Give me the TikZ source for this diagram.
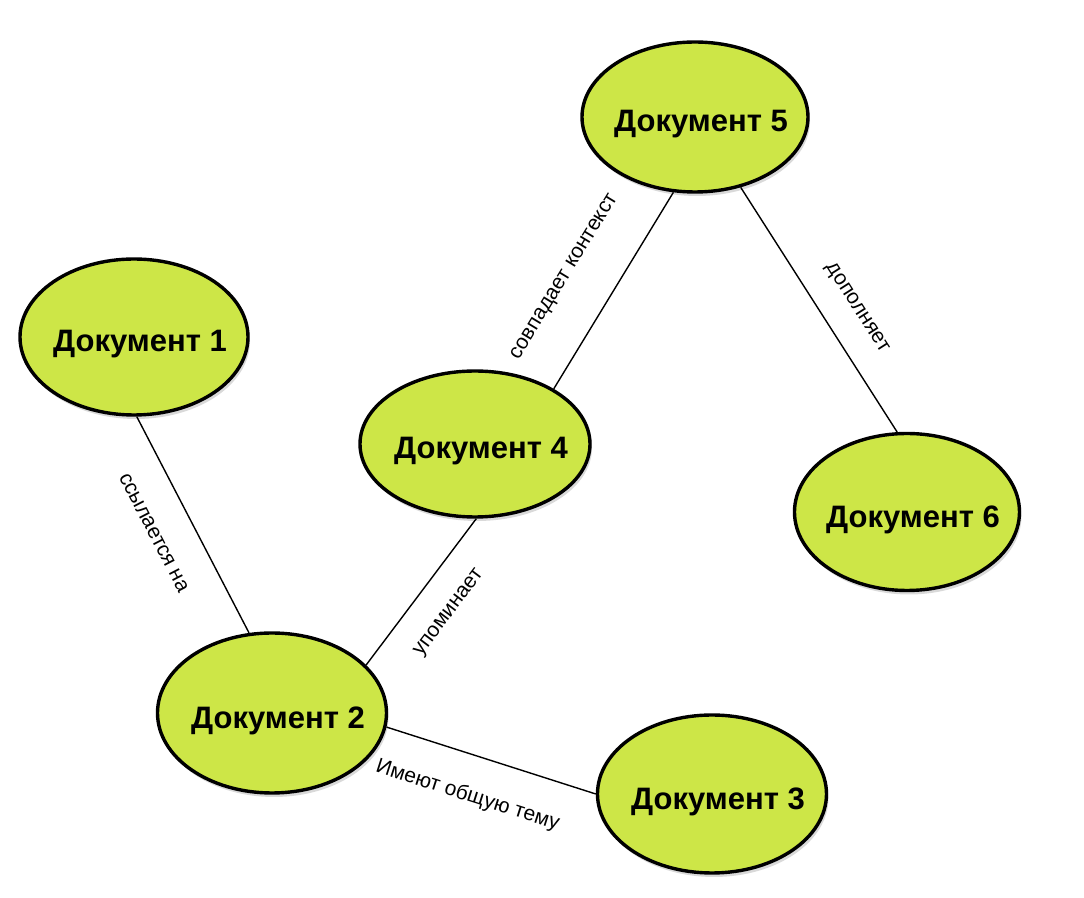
\documentclass[tikz,border=0pt]{standalone}
\usepackage{fontspec}
\setmainfont{Liberation Sans}
\usepackage{xcolor}
\definecolor{doc_lime}{HTML}{CDE647}
\usepackage{tikz}
\usetikzlibrary{shapes.geometric,shadows}
% document name, drawn a little right of and below the ellipse centre
\newcommand{\doctext}[1]{\makebox[0pt]{\hspace*{6pt}\raisebox{-3.75pt}[\height][\depth]{#1}}}

\begin{document}
\begin{tikzpicture}[
        x=0.5pt, y=-0.5pt,
        doc/.style={ellipse, draw=black, line width=1.7pt, fill=doc_lime, inner sep=0pt,
            font=\bfseries\fontsize{15.5}{18}\selectfont,
            drop shadow={fill=black, opacity=0.15, shadow xshift=1pt, shadow yshift=-2pt}},
        link/.style={line width=0.7pt},
        linklabel/.style={sloped, inner sep=0pt, font=\fontsize{10.5}{12}\selectfont}]
    \useasboundingbox (0,0) rectangle (1084,898);
    \node[doc, minimum width=114pt, minimum height=78pt] (D1) at (134,337) {\doctext{Документ 1}};
    \node[doc, minimum width=114.5pt, minimum height=80pt] (D2) at (272,713) {\doctext{Документ 2}};
    \node[doc, minimum width=114.5pt, minimum height=79pt] (D3) at (712,794) {\doctext{Документ 3}};
    \node[doc, minimum width=115pt, minimum height=73pt] (D4) at (475,444) {\doctext{Документ 4}};
    \node[doc, minimum width=113pt, minimum height=75pt] (D5) at (695,117) {\doctext{Документ 5}};
    \node[doc, minimum width=112.5pt, minimum height=78.5pt] (D6) at (907,512) {\doctext{Документ 6}};
    % links between documents
    \draw[link] (D1.-88) -- node[linklabel, pos=0.455, below=16pt] {ссылается на} (D2.106);
    \draw[link] (D2.27) -- node[linklabel, pos=0.5, below=13.5pt] {упоминает} (D4.-89);
    \draw[link] (D4.35) -- node[linklabel, pos=0.44, above=20pt] {совпадает контекст} (D5.-106);
    \draw[link] (D5.-57) -- node[linklabel, pos=0.565, above=12pt] {дополняет} (D6.97);
    \draw[link] (D2.-7) -- node[linklabel, pos=0.447, below=15pt] {Имеют общую тему} (D3.180);
\end{tikzpicture}
\end{document}
